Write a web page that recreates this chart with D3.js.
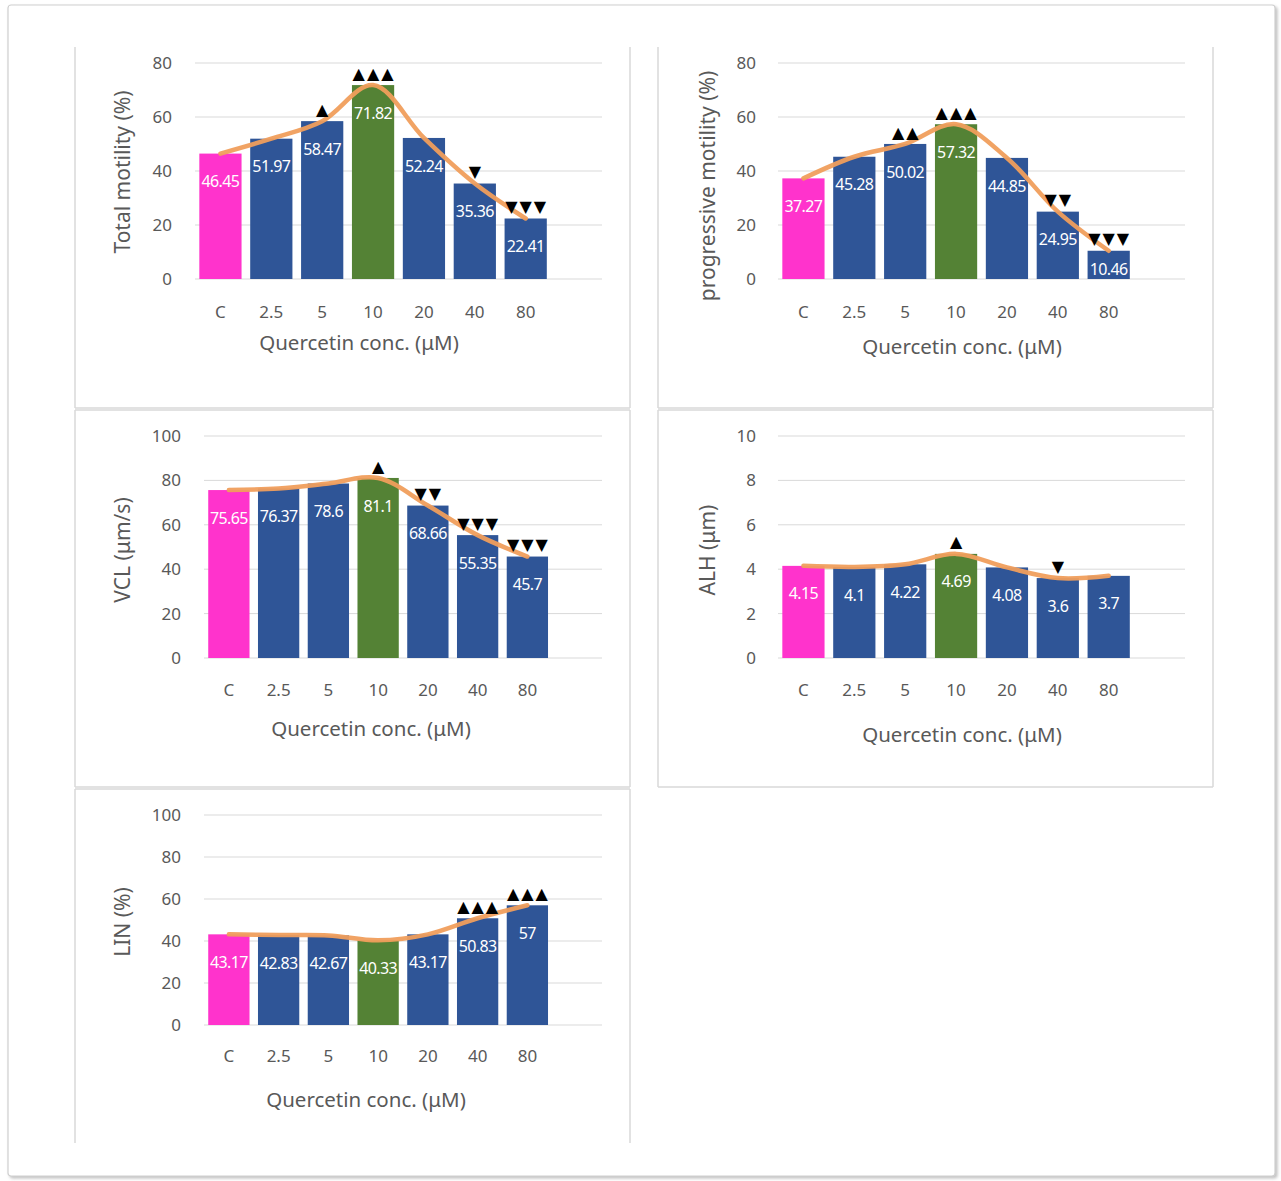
<!DOCTYPE html>
<meta charset="utf-8">
<script src="https://d3js.org/d3.v7.min.js"></script>
<style>
    body { margin: 0; background: #ffffff; }
    text { font-family: "Noto Sans", "Open Sans", sans-serif; }
</style>
<div id="chart"></div>
<script>

    // categories (quercetin concentration)
    var cats = ["C", "2.5", "5", "10", "20", "40", "80"];

    // series values
    var totalMotility = [46.45, 51.97, 58.47, 71.82, 52.24, 35.36, 22.41];
    var progMotility = [37.27, 45.28, 50.02, 57.32, 44.85, 24.95, 10.46];
    var vcl = [75.65, 76.37, 78.6, 81.1, 68.66, 55.35, 45.7];
    var alh = [4.15, 4.1, 4.22, 4.69, 4.08, 3.6, 3.7];
    var lin = [43.17, 42.83, 42.67, 40.33, 43.17, 50.83, 57];

    // significance marks above bars
    var sigTotal = ["", "", "▲", "▲▲▲", "", "▼", "▼▼▼"];
    var sigProg = ["", "", "▲▲", "▲▲▲", "", "▼▼", "▼▼▼"];
    var sigVcl = ["", "", "", "▲", "▼▼", "▼▼▼", "▼▼▼"];
    var sigAlh = ["", "", "", "▲", "", "▼", ""];
    var sigLin = ["", "", "", "", "", "▲▲▲", "▲▲▲"];

    // y tick labels
    var ticks80 = [0, 20, 40, 60, 80];
    var ticks100 = [0, 20, 40, 60, 80, 100];
    var ticks10 = [0, 2, 4, 6, 8, 10];

    var barColors = ["#FF33CC", "#2F5597", "#2F5597", "#548235", "#2F5597", "#2F5597", "#2F5597"];
    var xTitle = "Quercetin conc. (μM)";

    var svg = d3.select("#chart").append("svg")
        .attr("width", 1281)
        .attr("height", 1181);

    // drop shadow for the outer frame
    var defs = svg.append("defs");
    var f = defs.append("filter").attr("id", "shadow")
        .attr("x", "-2%").attr("y", "-2%").attr("width", "104%").attr("height", "104%");
    f.append("feDropShadow").attr("dx", 2).attr("dy", 2).attr("stdDeviation", 1.5)
        .attr("flood-color", "#999").attr("flood-opacity", 0.6);

    svg.append("rect")
        .attr("x", 8).attr("y", 5).attr("width", 1267).attr("height", 1171)
        .attr("rx", 3)
        .attr("fill", "#fff")
        .attr("stroke", "#cfcfcf")
        .attr("stroke-width", 1.2)
        .attr("filter", "url(#shadow)");

    function frame(x0, y0, x1, y1, top, bottom) {
        var g = svg.append("g").attr("stroke", "#d9d9d9").attr("stroke-width", 1.5);
        g.append("line").attr("x1", x0).attr("x2", x0).attr("y1", y0).attr("y2", y1);
        g.append("line").attr("x1", x1).attr("x2", x1).attr("y1", y0).attr("y2", y1);
        if (top) g.append("line").attr("x1", x0).attr("x2", x1).attr("y1", y0).attr("y2", y0);
        if (bottom) g.append("line").attr("x1", x0).attr("x2", x1).attr("y1", y1).attr("y2", y1);
    }

    frame(75, 47, 630, 408, false, true);
    frame(658, 47, 1213, 408, false, true);
    frame(75, 410, 630, 787, true, true);
    frame(658, 410, 1213, 787, true, true);
    frame(75, 789, 630, 1143, true, false);

    function panel(p) {
        var g = svg.append("g");

        // 8 slots across the plot, the last one empty
        var x = d3.scaleBand()
            .domain(cats)
            .range([p.x0, p.x0 + (p.x1 - p.x0) * 7 / 8])
            .paddingInner(0.17)
            .paddingOuter(0.085);

        var y = d3.scaleLinear()
            .domain([0, p.ticks[p.ticks.length - 1]])
            .range([p.y1, p.y0]);

        // gridlines
        g.selectAll(".grid")
            .data(p.ticks)
            .enter()
            .append("line")
            .attr("x1", p.x0)
            .attr("x2", p.x1)
            .attr("y1", function (d) { return y(d); })
            .attr("y2", function (d) { return y(d); })
            .attr("stroke", "#d9d9d9")
            .attr("stroke-width", 1);

        // y axis
        var ya = g.append("g")
            .attr("transform", "translate(" + p.tickX + ",0)")
            .call(d3.axisLeft(y).tickValues(p.ticks).tickSize(0).tickPadding(0));
        ya.select(".domain").remove();
        ya.selectAll("text").style("font-size", "17px").style("fill", "#595959")
            .style("font-family", "'Noto Sans', sans-serif");

        // x axis
        var xa = g.append("g")
            .attr("transform", "translate(0," + (p.xTickY - 6) + ")")
            .call(d3.axisBottom(x).tickSize(0).tickPadding(0));
        xa.select(".domain").remove();
        xa.selectAll("text").style("font-size", "17px").style("fill", "#595959")
            .style("font-family", "'Noto Sans', sans-serif");

        // bars
        g.selectAll(".bar")
            .data(p.values)
            .enter()
            .append("rect")
            .attr("x", function (d, i) { return x(cats[i]); })
            .attr("y", function (d) { return y(d); })
            .attr("width", x.bandwidth())
            .attr("height", function (d) { return y(0) - y(d); })
            .attr("fill", function (d, i) { return barColors[i]; });

        // trend line
        var line = d3.line()
            .x(function (d, i) { return x(cats[i]) + x.bandwidth() / 2; })
            .y(function (d) { return y(d); })
            .curve(d3.curveCatmullRom.alpha(0.5));
        g.append("path")
            .datum(p.values)
            .attr("d", line)
            .attr("fill", "none")
            .attr("stroke", "#F09E5C")
            .attr("stroke-width", 4.5)
            .attr("stroke-linecap", "round")
            .attr("opacity", 0.95);

        // value labels
        g.selectAll(".lbl")
            .data(p.values)
            .enter()
            .append("text")
            .attr("x", function (d, i) { return x(cats[i]) + x.bandwidth() / 2; })
            .attr("y", function (d) { return Math.min(y(d) + 28, y(0) - 10); })
            .attr("dy", "0.35em")
            .attr("text-anchor", "middle")
            .style("font-size", "16px")
            .style("letter-spacing", "-0.6px")
            .style("fill", "#fff")
            .text(function (d) { return d; });

        // significance marks
        g.selectAll(".sig")
            .data(p.sig)
            .enter()
            .append("text")
            .attr("x", function (d, i) { return x(cats[i]) + x.bandwidth() / 2 + 1; })
            .attr("y", function (d, i) { return y(p.values[i]) - 12; })
            .attr("dy", "0.35em")
            .attr("text-anchor", "middle")
            .style("font-family", "'DejaVu Sans', sans-serif")
            .style("font-size", "16px")
            .style("letter-spacing", "2px")
            .style("fill", "#000")
            .text(function (d) { return d; });

        // axis titles
        g.append("text")
            .attr("x", p.xTitleX)
            .attr("y", p.xTitleY)
            .attr("dy", "0.35em")
            .attr("text-anchor", "middle")
            .style("font-size", "20.5px")
            .style("fill", "#595959")
            .text(xTitle);

        g.append("text")
            .attr("transform", "translate(" + p.yTitleX + "," + p.yTitleY + ") rotate(-90)")
            .attr("dy", "0.35em")
            .attr("text-anchor", "middle")
            .style("font-size", "21px")
            .style("fill", "#595959")
            .text(p.yTitle);
    }

    panel({ values: totalMotility, sig: sigTotal, ticks: ticks80, yTitle: "Total motility (%)",
        x0: 195, x1: 602, y0: 63, y1: 279, tickX: 172, xTickY: 312,
        xTitleX: 359, xTitleY: 343, yTitleX: 123, yTitleY: 172 });

    panel({ values: progMotility, sig: sigProg, ticks: ticks80, yTitle: "progressive motility (%)",
        x0: 778, x1: 1185, y0: 63, y1: 279, tickX: 756, xTickY: 312,
        xTitleX: 962, xTitleY: 347, yTitleX: 708, yTitleY: 186 });

    panel({ values: vcl, sig: sigVcl, ticks: ticks100, yTitle: "VCL (μm/s)",
        x0: 204, x1: 602, y0: 436, y1: 658, tickX: 181, xTickY: 690,
        xTitleX: 371, xTitleY: 729, yTitleX: 123, yTitleY: 550 });

    panel({ values: alh, sig: sigAlh, ticks: ticks10, yTitle: "ALH (μm)",
        x0: 778, x1: 1185, y0: 436, y1: 658, tickX: 756, xTickY: 690,
        xTitleX: 962, xTitleY: 735, yTitleX: 708, yTitleY: 550 });

    panel({ values: lin, sig: sigLin, ticks: ticks100, yTitle: "LIN (%)",
        x0: 204, x1: 602, y0: 815, y1: 1025, tickX: 181, xTickY: 1056,
        xTitleX: 366, xTitleY: 1100, yTitleX: 123, yTitleY: 922 });

</script>
